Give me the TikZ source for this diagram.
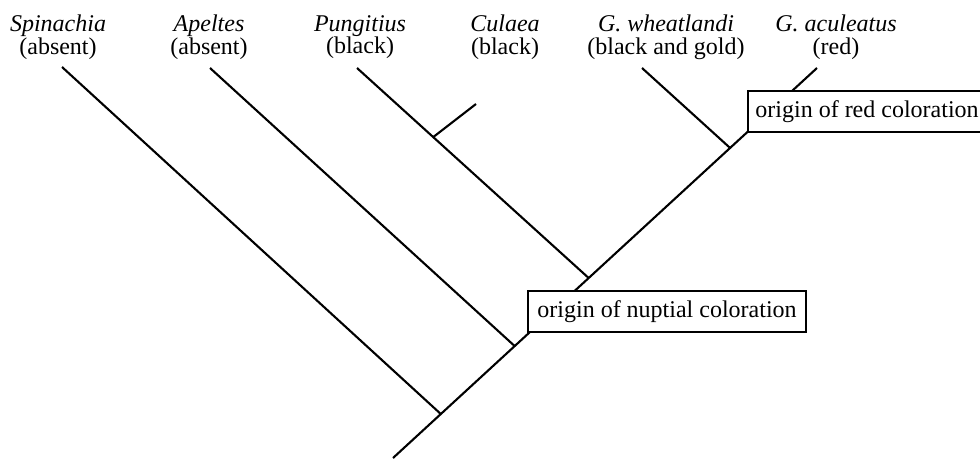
\documentclass[tikz,border=0pt]{standalone}
\usepackage{fontspec}
\setmainfont{Liberation Serif}
\usetikzlibrary{calc}
\begin{document}
\begin{tikzpicture}[x=1pt,y=-1pt,
  branch/.style={line width=2.1pt},
  taxon/.style={align=center, font=\fontsize{24}{22.5}\selectfont, inner sep=0pt, anchor=north},
  event/.style={draw, line width=2.1pt, fill=white, font=\fontsize{24}{24}\selectfont,
    inner xsep=4pt, inner ysep=0pt, minimum height=41pt, anchor=south west}]
\useasboundingbox (0,0) rectangle (980,458);
% taxon labels
\node[taxon] (spi) at (58,15) {\textit{Spinachia}\\(absent)};
\node[taxon] (ape) at (209,15) {\textit{Apeltes}\\(absent)};
\node[taxon] (pun) at (360,15) {\textit{Pungitius}\\(black)};
\node[taxon] (cul) at (505,15) {\textit{Culaea}\\(black)};
\node[taxon] (whe) at (666,15) {\textit{G. wheatlandi}\\(black and gold)};
\node[taxon] (acu) at (836,15) {\textit{G. aculeatus}\\(red)};
% tree points
\coordinate (root) at (393,458);
\coordinate (tacu) at (817,68);
\coordinate (j1) at ($(root)!0.1128!(tacu)$);
\coordinate (j2) at ($(root)!0.287!(tacu)$);
\coordinate (j3) at ($(root)!0.4615!(tacu)$);
\coordinate (j4) at ($(root)!0.795!(tacu)$);
\coordinate (tspi) at (62,67);
\coordinate (tape) at (210,68);
\coordinate (tpun) at (357,68);
\coordinate (jpc) at ($(j3)!0.671!(tpun)$);
\coordinate (tcul) at (476,104);
\coordinate (twhe) at (642,68);
% branches
\draw[branch] (root) -- (tacu);
\draw[branch] (j1) -- (tspi);
\draw[branch] (j2) -- (tape);
\draw[branch] (j3) -- (tpun);
\draw[branch] (jpc) -- (tcul);
\draw[branch] (j4) -- (twhe);
% events
\node[event, minimum width=278pt] (nup) at (527,333) {origin of nuptial coloration};
\node[event, minimum width=238pt] (red) at (747,133) {origin of red coloration};
\end{tikzpicture}
\end{document}
